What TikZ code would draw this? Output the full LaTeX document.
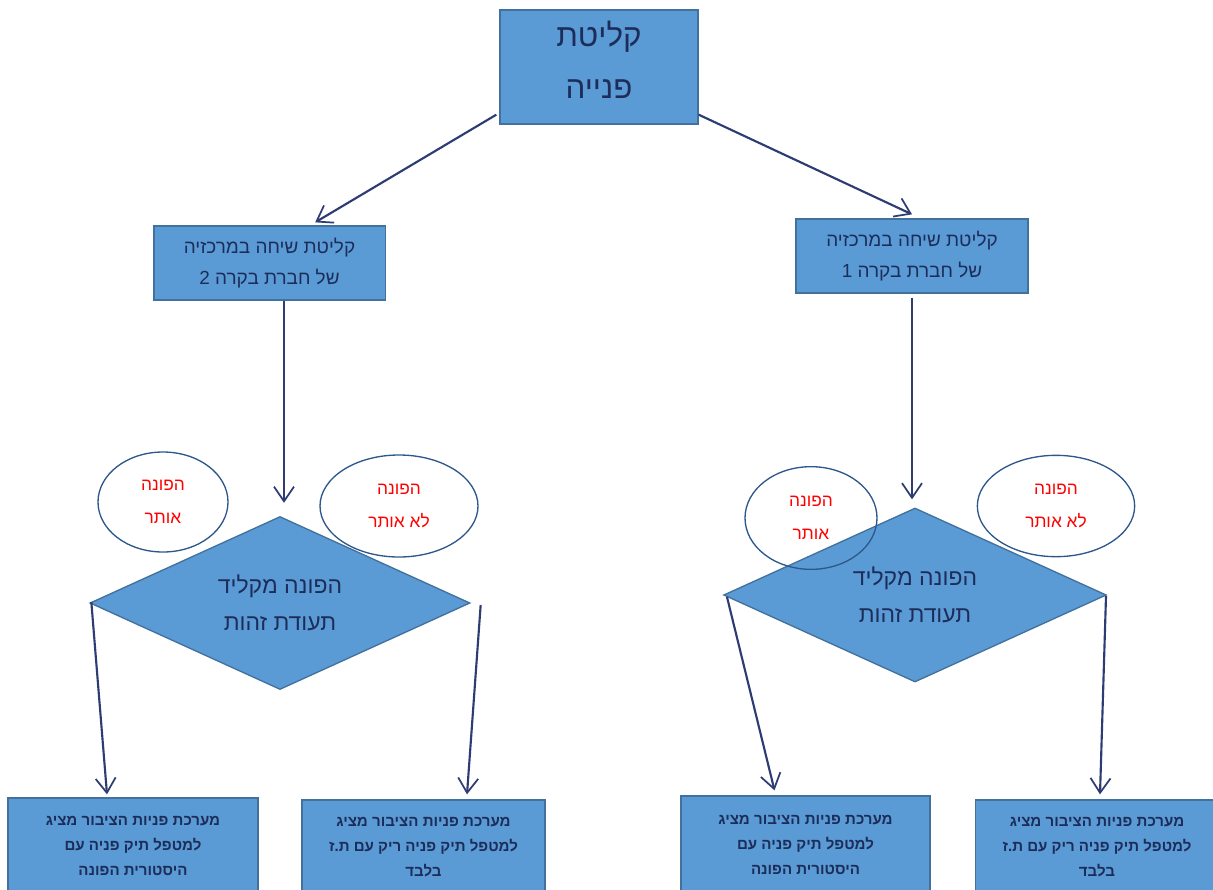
\documentclass[tikz,border=0pt]{standalone}
\usepackage{fontspec}
\newfontfamily\hebfont[Script=Hebrew]{Liberation Sans}
\TeXXeTstate=1
\usetikzlibrary{shapes.geometric,arrows.meta,calc}
\newcommand{\heb}[1]{\beginR #1\endR}
\definecolor{boxfill}{RGB}{91,155,213}
\definecolor{boxline}{RGB}{65,113,156}
\definecolor{navytext}{RGB}{28,45,90}
\definecolor{arrowc}{RGB}{45,60,115}
\definecolor{ellline}{RGB}{46,88,140}
\definecolor{redtext}{RGB}{255,0,0}
\begin{document}
\begin{tikzpicture}[x=0.75pt,y=-0.75pt,
  bluebox/.style={rectangle, draw=boxline, fill=boxfill, line width=1pt, inner sep=0pt, text=navytext, align=center},
  bigbox/.style={bluebox, minimum width=148.5pt, minimum height=85.5pt, text depth=11.5pt, font=\hebfont\fontsize{23.5}{39}\selectfont},
  midbox/.style={bluebox, minimum width=173.5pt, minimum height=55.5pt, font=\hebfont\fontsize{14.2}{23.5}\selectfont},
  lowbox/.style={bluebox, minimum height=72pt, font=\hebfont\bfseries\fontsize{11.3}{18.5}\selectfont},
  decision/.style={diamond, aspect=2.2, draw=boxline, fill=boxfill, line width=1pt, inner sep=0pt, text=navytext, align=center, font=\hebfont\fontsize{17.2}{28}\selectfont},
  answer/.style={ellipse, draw=ellline, line width=1pt, inner sep=0pt, text=redtext, align=center, font=\hebfont\fontsize{13}{25}\selectfont},
  flow/.style={draw=arrowc, line width=1.6pt, -{Straight Barb[length=11pt,width=15pt,line width=1.3pt]}}
]
\useasboundingbox[fill=white] (0,0) rectangle (1213,889);

% top
\node[bigbox] (top) at (599,67) {\heb{קליטת}\\\heb{פנייה}};

% second level
\node[midbox] (b2) at (269.5,263) {\heb{קליטת שיחה במרכזיה}\\\heb{של חברת בקרה 2}};
\node[midbox, minimum width=174pt] (b1) at (912,256) {\heb{קליטת שיחה במרכזיה}\\\heb{של חברת בקרה 1}};

% diamonds
\node[decision, minimum width=285pt, minimum height=129.75pt] (d2) at (280,603) {\heb{הפונה מקליד}\\\heb{תעודת זהות}};
\node[decision, minimum width=287pt, minimum height=130.5pt] (d1) at (915,595) {\heb{הפונה מקליד}\\\heb{תעודת זהות}};

% ellipses
\node[answer, minimum width=97.5pt, minimum height=75pt] (e2a) at (163,502) {\heb{הפונה}\\\heb{אותר}};
\node[answer, minimum width=118.5pt, minimum height=76.5pt] (e2b) at (399,506) {\heb{הפונה}\\\heb{לא אותר}};
\node[answer, minimum width=99pt, minimum height=77pt] (e1a) at (811,518) {\heb{הפונה}\\\heb{אותר}};
\node[answer, minimum width=118pt, minimum height=76pt] (e1b) at (1056,506) {\heb{הפונה}\\\heb{לא אותר}};

% bottom boxes
\node[lowbox, minimum width=187.5pt] (l1) at (133,846) {\heb{מערכת פניות הציבור מציג}\\\heb{למטפל תיק פניה עם}\\\heb{היסטורית הפונה}};
\node[lowbox, minimum width=182.25pt, minimum height=70.5pt] (l2) at (423.5,847) {\heb{מערכת פניות הציבור מציג}\\\heb{למטפל תיק פניה ריק עם ת.ז}\\\heb{בלבד}};
\node[lowbox, minimum width=186.75pt, minimum height=73.5pt] (r1) at (805.5,845) {\heb{מערכת פניות הציבור מציג}\\\heb{למטפל תיק פניה עם}\\\heb{היסטורית הפונה}};
\node[lowbox, minimum width=182pt, minimum height=70.5pt] (r2) at (1097,847) {\heb{מערכת פניות הציבור מציג}\\\heb{למטפל תיק פניה ריק עם ת.ז}\\\heb{בלבד}};

% connectors
\draw[flow] ($(top.south west)+(-3,-10)$) -- ($(b2.north west)+(162,-3)$);
\draw[flow] ($(top.south east)+(0,-10)$) -- ($(b1.north)+(0,-4)$);
\draw[flow] ($(b2.south)+(14.5,0)$) -- ($(d2.north)+(4,-13)$);
\draw[flow] ($(b1.south)+(0,4)$) -- ($(d1.north)+(-3,-8)$);
\draw[flow] ($(d2.west)+(2,-1)$) -- ($(l1.north)+(-26,-3)$);
\draw[flow] ($(d2.east)+(10,2)$) -- ($(l2.north)+(43.5,-5)$);
\draw[flow] ($(d1.west)+(4,2)$) -- ($(r1.north)+(-31,-5)$);
\draw[flow] ($(d1.east)+(-1,1)$) -- ($(r2.north)+(3,-5)$);
\end{tikzpicture}
\end{document}
